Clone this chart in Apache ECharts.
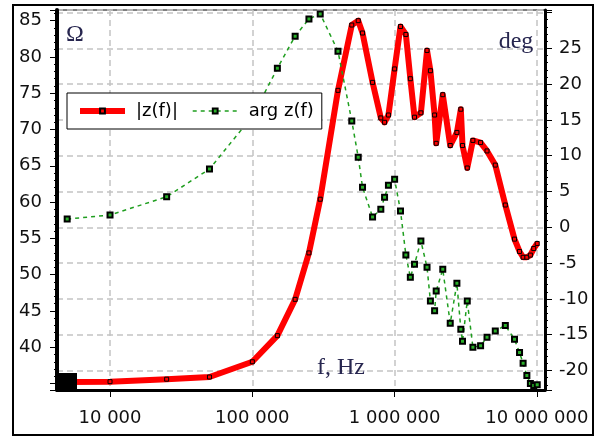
<!DOCTYPE html>
<html><head><meta charset="utf-8">
<script src="https://cdn.jsdelivr.net/npm/echarts@6.0.0/dist/echarts.min.js"></script>
<style>html,body{margin:0;padding:0;background:#fff}#c{width:600px;height:439px}</style>
</head><body><div id="c"></div>
<script>
// ---- data ----
const freqHz = [5000, 10000, 25000, 50000, 100000, 150000, 200000, 250000, 300000, 400000,
  500000, 555000, 595000, 700000, 800000, 850000, 905000, 1000000, 1100000, 1200000,
  1290000, 1380000, 1530000, 1690000, 1785000, 1910000, 1960000, 2180000, 2460000, 2740000,
  2920000, 3000000, 3240000, 3550000, 4020000, 4460000, 5100000, 6000000, 6960000, 7550000,
  8000000, 8500000, 9000000, 9500000, 10050000];
const impedanceOhm = [35.2, 35.26, 35.6, 35.9, 38.0, 41.6, 46.6, 53.0, 60.4, 75.4,
  84.4, 85.0, 83.3, 76.5, 71.6, 71.0, 72.0, 78.35, 84.2, 83.1,
  77.0, 71.7, 72.3, 80.9, 78.1, 72.0, 68.1, 74.8, 67.8, 69.6,
  72.8, 67.8, 64.7, 68.5, 68.2, 67.05, 65.1, 59.6, 54.9, 53.2,
  52.4, 52.4, 52.7, 53.6, 54.3];
const phaseDeg = [1.16, 1.72, 4.27, 8.14, 15.5, 22.2, 26.7, 29.1, 29.8, 24.6,
  14.85, 9.8, 5.6, 1.44, 2.53, 4.19, 5.87, 6.7, 2.28, -3.87,
  -6.98, -5.17, -1.91, -5.59, -10.3, -11.65, -8.9, -5.87, -13.4, -7.82,
  -14.25, -15.9, -10.3, -16.76, -16.54, -15.36, -14.48, -13.7, -15.64, -17.5,
  -19.0, -20.7, -21.8, -22.1, -22.0];
const xTickValues = [10000, 100000, 1000000, 10000000];
const xTickLabels = ['10 000', '100 000', '1 000 000', '10 000 000'];
const seriesNames = ['|z(f)|', 'arg z(f)'];
const unitLabels = ['Ω', 'deg', 'f, Hz'];

const FONT = 'DejaVu Sans';
const SERIF = 'Liberation Serif';
const chart = echarts.init(document.getElementById('c'), null, {renderer: 'canvas'});

function xFmt(v) {
  for (let i = 0; i < xTickValues.length; i++) {
    if (Math.abs(v / xTickValues[i] - 1) < 1e-6) return xTickLabels[i];
  }
  return '';
}
function leftFmt(v) {
  const r = Math.round(v);
  if (Math.abs(v - r) > 1e-6 || r % 5 !== 0 || r < 40) return '';
  return String(r);
}
function rightFmt(v) {
  const r = Math.round(v);
  if (Math.abs(v - r) > 1e-6 || r % 5 !== 0 || r > 25) return '';
  return String(r);
}

const option = {
  animation: false,
  backgroundColor: '#fff',
  grid: {left: 57, right: 55, top: 10, bottom: 49, show: true, borderColor: '#000', borderWidth: 1, containLabel: false},
  legend: {
    left: 67, top: 93,
    backgroundColor: '#fff', borderColor: '#000', borderWidth: 1, borderRadius: 0,
    padding: [9, 8, 9, 10],
    itemWidth: 45, itemHeight: 6, itemGap: 14,
    lineStyle: {width: 'inherit'},
    textStyle: {fontFamily: FONT, fontSize: 18, color: '#000', padding: [0, 0, 0, 6]},
    data: seriesNames
  },
  xAxis: {
    type: 'log', logBase: 10, min: 4240, max: 11400000,
    axisLine: {onZero: false, lineStyle: {color: '#000', width: 3}},
    axisTick: {length: 7, lineStyle: {color: '#000', width: 1}},
    axisLabel: {margin: 19, fontFamily: FONT, fontSize: 18, color: '#111', formatter: xFmt, showMinLabel: false, showMaxLabel: false},
    splitLine: {show: true, lineStyle: {color: '#c4c4c4', width: 1.5, type: [6, 4]}}
  },
  yAxis: [{
    type: 'value', min: 34.11, max: 86.47, splitNumber: 10, position: 'left',
    axisLine: {show: true, onZero: false, lineStyle: {color: '#000', width: 4}},
    axisTick: {show: true, length: 7, lineStyle: {color: '#000', width: 1}},
    minorTick: {show: true, splitNumber: 5, length: 3, lineStyle: {color: '#000', width: 1}},
    axisLabel: {margin: 15, fontFamily: FONT, fontSize: 18, color: '#111', formatter: leftFmt},
    splitLine: {show: false}
  }, {
    type: 'value', min: -22.72, max: 30.35, splitNumber: 10, position: 'right',
    axisLine: {show: true, onZero: false, lineStyle: {color: '#000', width: 3}},
    axisTick: {show: true, length: 7, lineStyle: {color: '#000', width: 1}},
    minorTick: {show: true, splitNumber: 5, length: 3, lineStyle: {color: '#000', width: 1}},
    axisLabel: {margin: 14, fontFamily: FONT, fontSize: 18, color: '#111', formatter: rightFmt},
    splitLine: {show: true, lineStyle: {color: '#c4c4c4', width: 1.5, type: [6, 4]}}
  }],
  series: [{
    name: seriesNames[0], type: 'line', yAxisIndex: 0,
    data: freqHz.map((f, i) => [f, impedanceOhm[i]]),
    symbol: 'rect', symbolSize: 4, showSymbol: true, showAllSymbol: true,
    lineStyle: {color: '#ff0000', width: 6, join: 'round'},
    itemStyle: {color: '#ff0000', borderColor: '#000', borderWidth: 1},
    z: 2
  }, {
    name: seriesNames[1], type: 'line', yAxisIndex: 1,
    data: freqHz.map((f, i) => [f, phaseDeg[i]]),
    symbol: 'rect', symbolSize: 5, showSymbol: true, showAllSymbol: true,
    lineStyle: {color: '#1f9e1f', width: 1.5, type: [4, 4]},
    itemStyle: {color: '#2ab02a', borderColor: '#000', borderWidth: 2},
    z: 3
  }],
  graphic: [
    {type: 'rect', shape: {x: 13, y: 5, width: 580, height: 430}, style: {fill: null, stroke: '#000', lineWidth: 2}, silent: true},
    {type: 'rect', shape: {x: 56, y: 373, width: 21, height: 18}, style: {fill: '#000'}, silent: true, z: 10},
    {type: 'text', x: 75, y: 35, style: {text: unitLabels[0], font: '24px "' + SERIF + '"', fill: '#27264f', align: 'center', verticalAlign: 'middle'}, z: 10},
    {type: 'text', x: 516, y: 42, style: {text: unitLabels[1], font: '24px "' + SERIF + '"', fill: '#27264f', align: 'center', verticalAlign: 'middle'}, z: 10},
    {type: 'text', x: 317, y: 368, style: {text: unitLabels[2], font: '24px "' + SERIF + '"', fill: '#27264f', align: 'left', verticalAlign: 'middle'}, z: 10}
  ]
};
chart.setOption(option);
</script>
</body></html>
